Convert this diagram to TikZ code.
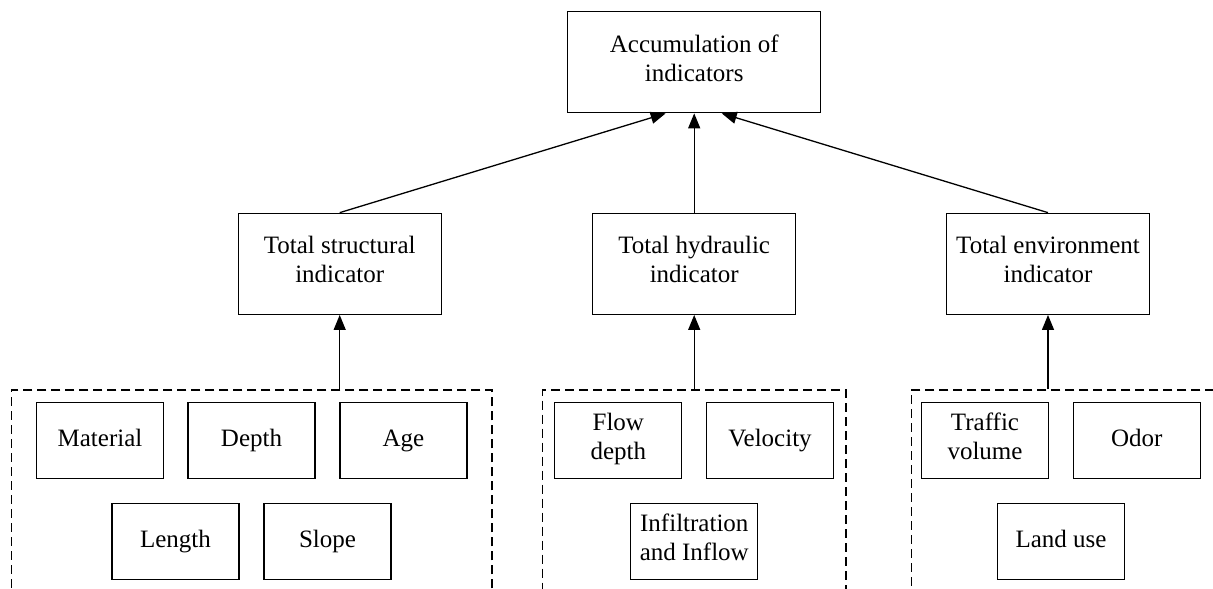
\documentclass[tikz,border=0pt]{standalone}
\usepackage{fontspec}
\setmainfont{Liberation Serif}
\usetikzlibrary{arrows.meta,calc}
\begin{document}
\begin{tikzpicture}[x=1pt,y=-1pt,
 box/.style={draw,line width=1.3pt,align=center,inner sep=0pt,font=\fontsize{25}{29}\selectfont,
   execute at begin node=\strut, execute at end node=\strut},
 big/.style={box,minimum width=253pt,minimum height=101pt},
 mid/.style={box,minimum width=203pt,minimum height=101pt},
 small/.style={box,minimum width=127pt,minimum height=76pt},
 grp/.style={draw,line width=1.3pt,dash pattern=on 9pt off 5pt,inner sep=0pt,minimum height=250pt},
 arr/.style={line width=1.3pt,-{Triangle[length=15pt,width=12pt]}}]
\useasboundingbox (0,0) rectangle (1213,589);
\clip (0,0) rectangle (1213,589);
% top
\node[big] (top) at (694.2,62.2) {Accumulation of\\indicators};
% middle level
\node[mid] (s1) at (339.7,263.8) {Total structural\\indicator};
\node[mid] (h1) at (694.2,263.8) {Total hydraulic\\indicator};
\node[mid] (e1) at (1048,263.8) {Total environment\\indicator};
% groups
\node[grp,minimum width=480.3pt] (g1) at (251.85,515) {};
\node[grp,minimum width=303.7pt] (g2) at (694.15,515) {};
\node[grp,minimum width=348.3pt] (g3) at (1085.85,515) {};
% structural items
\node[small] (mat) at (100,440.3) {Material};
\node[small] (dep) at (251.5,440.3) {Depth};
\node[small] (age) at (403.5,440.3) {Age};
\node[small] (len) at (175.5,541.3) {Length};
\node[small] (slo) at (327.5,541.3) {Slope};
% hydraulic items
\node[small] (flo) at (618.3,440.3) {Flow\\depth};
\node[small] (vel) at (770,440.3) {Velocity};
\node[small] (inf) at (694.3,541.3) {Infiltration\\and Inflow};
% environment items
\node[small] (tra) at (985,440.3) {Traffic\\volume};
\node[small] (odo) at (1136.7,440.3) {Odor};
\node[small] (lan) at (1061,541.3) {Land use};
% connectors
\draw[arr] (s1.north) -- ([xshift=-28.5pt]top.south);
\draw[arr] (h1.north) -- (top.south);
\draw[arr] (e1.north) -- ([xshift=27.5pt]top.south);
\draw[arr] (s1.south |- g1.north) -- (s1.south);
\draw[arr] (h1.south |- g2.north) -- (h1.south);
\draw[arr] (e1.south |- g3.north) -- (e1.south);
\end{tikzpicture}
\end{document}
